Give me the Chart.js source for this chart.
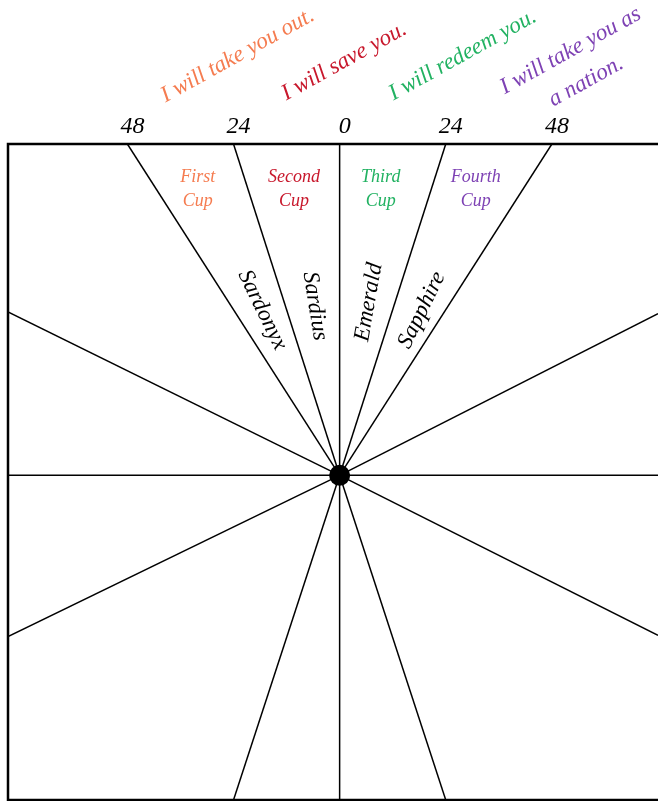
<!DOCTYPE html>
<html>
<head>
<meta charset="utf-8">
<script src="https://cdn.jsdelivr.net/npm/chart.js@4.4.1/dist/chart.umd.min.js"></script>
<style>
html, body { margin: 0; padding: 0; background: #fff; overflow: hidden; }
</style>
</head>
<body>
<canvas id="dialChart" width="658" height="801"></canvas>
<script>
// top axis
var tickValues = [-48, -24, 0, 24, 48];
var tickLabels = ['48', '24', '0', '24', '48'];

// rays from the centre to the frame
var rayEndX = [-48, -24, 0, 24, 48, -75, -75, 72, 72, -75, 72, -24, 0, 24];
var rayEndY = [75, 75, 75, 75, 75, 37, -36.5, 36.6, -36.2, 0, 0, -73.5, -73.5, -73.5];

var cups = ['First', 'Second', 'Third', 'Fourth'];
var promises = [['I will take you out.'], ['I will save you.'], ['I will redeem you.'], ['I will take you as', 'a nation.']];
var stones = ['Sardonyx', 'Sardius', 'Emerald', 'Sapphire'];
var cupColors = ['rgb(245,124,80)', 'rgb(200,24,44)', 'rgb(34,178,98)', 'rgb(126,66,180)'];

var serif = '"Liberation Serif", "DejaVu Serif", serif';

// label placement (data units)
var promisePos = [[[-22.4, 93.8]], [[1.7, 92.5]], [[28.5, 93.9]], [[52.9, 94.9], [56.4, 87.9]]];
var cupPos = [-32.1, -10.3, 9.3, 30.8];
var stonePos = [[-17.5, 37.4, 64], [-5.6, 38.3, 81], [6.6, 39.2, -80], [18.6, 37.4, -64]];

var framePlugin = {
    id: 'frame',
    afterDatasetsDraw: function (chart) {
        var ctx = chart.ctx, a = chart.chartArea;
        var sx = chart.scales.x, sy = chart.scales.y;

        ctx.save();
        ctx.strokeStyle = '#000';
        ctx.lineWidth = 2.5;
        ctx.beginPath();
        ctx.moveTo(a.right, a.top);
        ctx.lineTo(a.left, a.top);
        ctx.lineTo(a.left, a.bottom);
        ctx.lineTo(a.right, a.bottom);
        ctx.stroke();

        function put(text, vx, vy, deg, size, color, align, base) {
            ctx.save();
            ctx.translate(sx.getPixelForValue(vx), sy.getPixelForValue(vy));
            ctx.rotate(deg * Math.PI / 180);
            ctx.font = 'italic ' + size + 'px ' + serif;
            ctx.fillStyle = color;
            ctx.textAlign = align;
            ctx.textBaseline = base;
            ctx.fillText(text, 0, 0);
            ctx.restore();
        }

        promises.forEach(function (lines, i) {
            lines.forEach(function (t, j) {
                put(t, promisePos[i][j][0], promisePos[i][j][1], -29, 23, cupColors[i], 'center', 'alphabetic');
            });
        });
        cups.forEach(function (c, i) {
            put(c, cupPos[i], 66.4, 0, 18, cupColors[i], 'center', 'alphabetic');
            put('Cup', cupPos[i], 60.9, 0, 18, cupColors[i], 'center', 'alphabetic');
        });
        stones.forEach(function (s, i) {
            put(s, stonePos[i][0], stonePos[i][1], stonePos[i][2], 23, '#000', 'center', 'middle');
        });
        ctx.restore();
    }
};

var datasets = [{
    data: [{ x: 0, y: 0 }],
    pointRadius: 10.5,
    backgroundColor: '#000',
    borderWidth: 0
}];
rayEndX.forEach(function (ex, i) {
    datasets.push({
        data: [{ x: 0, y: 0 }, { x: ex, y: rayEndY[i] }],
        showLine: true,
        borderColor: '#000',
        borderWidth: 1.5,
        pointRadius: 0
    });
});

var ctx = document.getElementById('dialChart').getContext('2d');
new Chart(ctx, {
    type: 'scatter',
    data: { datasets: datasets },
    options: {
        responsive: false,
        animation: false,
        events: [],
        layout: { autoPadding: false, padding: { left: 8, top: 100, right: 0, bottom: 1 } },
        plugins: { legend: { display: false }, tooltip: { enabled: false } },
        scales: {
            x: {
                type: 'linear',
                position: 'top',
                min: -75,
                max: 72,
                afterBuildTicks: function (s) {
                    s.ticks = tickValues.map(function (v) { return { value: v }; });
                },
                afterFit: function (s) { s.height = 44; },
                grid: { display: false, drawTicks: false },
                border: { display: false },
                ticks: {
                    color: '#000',
                    font: { family: serif, size: 24, style: 'italic' },
                    padding: 3,
                    labelOffset: 5,
                    maxRotation: 0,
                    autoSkip: false,
                    callback: function (v, i) { return tickLabels[i]; }
                }
            },
            y: { type: 'linear', display: false, min: -73.5, max: 75 }
        }
    },
    plugins: [framePlugin]
});
</script>
</body>
</html>
